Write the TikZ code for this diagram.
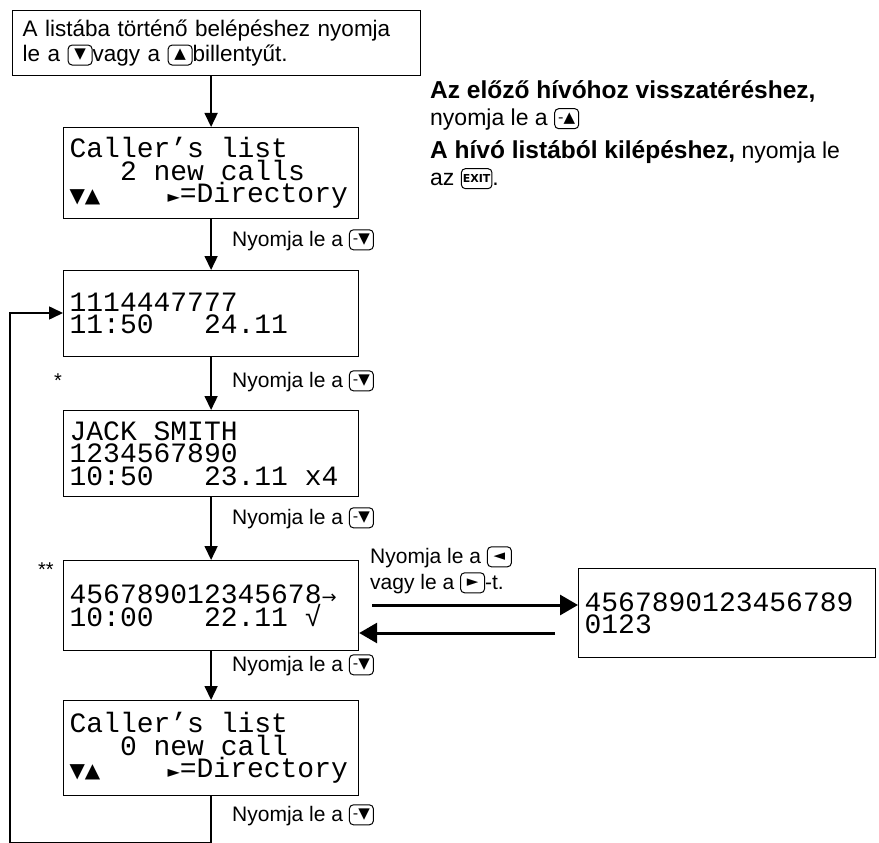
\documentclass[tikz,border=0pt]{standalone}
\usepackage{fontspec}
\setmainfont{Liberation Sans}
\setmonofont{Liberation Mono}
\newfontfamily\symf{DejaVu Sans}
\usetikzlibrary{arrows.meta}
\newcommand\Sp{\hspace{0.6em}}
\newcommand\keyb[1]{\raisebox{-4pt}{\tikz\node[draw,rounded corners=4pt,inner sep=1.5pt,minimum height=20pt,minimum width=24pt,line width=1pt,font=\symf\fontsize{15}{15}\selectfont]{#1};}}
\begin{document}
\begin{tikzpicture}[x=1pt,y=-1pt,
  box/.style={draw,line width=1.2pt,anchor=north west,inner sep=0pt},
  lcd/.style={box,font=\ttfamily\fontsize{28}{22.5}\selectfont,align=left,inner xsep=6pt},
  lab/.style={anchor=west,font=\fontsize{21}{24}\selectfont,inner sep=0pt},
  arr/.style={line width=1.6pt,-{Triangle[length=14pt,width=13pt]}},
  harr/.style={line width=3pt,-{Triangle[length=18pt,width=20pt]}}]
\useasboundingbox (0,0) rectangle (879,843);
\node[box,minimum width=408,minimum height=65,align=left,font=\fontsize{22.5}{25}\selectfont,inner xsep=10pt,text width=388] (t) at (12,10)
 {A listába történő belépéshez nyomja\\le a \keyb{▼}vagy a \keyb{▲}billentyűt.};
\node[lcd,minimum width=295,minimum height=91,text width=283] (b2) at (63,127)
 {Caller’s\Sp list\\\Sp\Sp\Sp 2\Sp new\Sp calls\\{\symf\fontsize{20}{21}\selectfont ▼▲}\Sp\Sp\Sp\Sp{\symf\fontsize{16}{21}\selectfont ►}=Directory};
\node[lcd,minimum width=295,minimum height=86,text width=283] (b3) at (63,270)
 {1114447777\\11:50\Sp\Sp\Sp 24.11};
\node[lcd,minimum width=295,minimum height=86,text width=283] (b4) at (63,410)
 {JACK\Sp SMITH\\1234567890\\10:50\Sp\Sp\Sp 23.11\Sp x4};
\node[lcd,minimum width=295,minimum height=90,text width=283] (b5) at (63,560)
 {456789012345678{\symf\fontsize{18}{21}\selectfont →}\\10:00\Sp\Sp\Sp 22.11\Sp √};
\node[lcd,minimum width=295,minimum height=95,text width=283] (b6) at (63,700)
 {Caller’s\Sp list\\\Sp\Sp\Sp 0\Sp new\Sp call\\{\symf\fontsize{20}{21}\selectfont ▼▲}\Sp\Sp\Sp\Sp{\symf\fontsize{16}{21}\selectfont ►}=Directory};
\node[lcd,minimum width=297,minimum height=89,text width=285] (r) at (578,568)
 {4567890123456789\\0123};
\node[font=\fontsize{20}{20}\selectfont] (s1) at (58,381) {*};
\node[font=\fontsize{20}{20}\selectfont] (s2) at (46,570) {**};
\draw[arr] (t.south -| b2.north) -- (b2.north);
\draw[arr] (b2.south) -- (b3.north);
\draw[arr] (b3.south) -- (b4.north);
\draw[arr] (b4.south) -- (b5.north);
\draw[arr] (b5.south) -- (b6.north);
\coordinate (c2) at (10,843);
\coordinate (c3) at (10,313);
\draw[arr] (b6.south) -- (b6.south |- c2) -- (c2) -- (c3) -- (c3 -| b3.west);
\coordinate (ra) at (372,605);
\coordinate (la) at (555,633);
\draw[harr] (ra) -- (ra -| r.west);
\draw[harr] (la) -- (la -| b5.east);
\node[lab] (n1) at (232,240) {Nyomja le a \keyb{-▼}};
\node[lab] (n2) at (232,381) {Nyomja le a \keyb{-▼}};
\node[lab] (n3) at (232,518) {Nyomja le a \keyb{-▼}};
\node[lab] (n4) at (232,665) {Nyomja le a \keyb{-▼}};
\node[lab] (n5) at (232,815) {Nyomja le a \keyb{-▼}};
\node[lab] (n6) at (370,557) {Nyomja le a \keyb{◄}};
\node[lab] (n7) at (370,583) {vagy le a \keyb{►}-t.};
\node[lab,anchor=north west,align=left,font=\fontsize{23}{27}\selectfont] (rt1) at (430,80)
 {{\fontsize{24.5}{27}\selectfont\bfseries Az előző hívóhoz visszatéréshez,}\\nyomja le a \keyb{-▲}};
\node[lab,anchor=north west,align=left,font=\fontsize{23}{27}\selectfont] (rt2) at (430,140)
 {{\fontsize{24.5}{27}\selectfont\bfseries A hívó listából kilépéshez,} nyomja le\\az \keyb{\fontsize{11}{11}\selectfont\bfseries EXIT}.};
\end{tikzpicture}
\end{document}
